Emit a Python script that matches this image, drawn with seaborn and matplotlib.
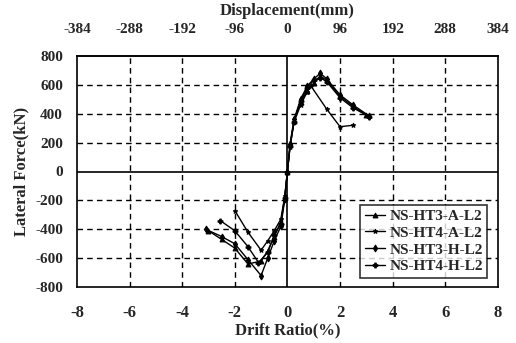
import numpy as np
import pandas as pd
import matplotlib
matplotlib.use("Agg")
import matplotlib.pyplot as plt
import seaborn as sns

# ---- data (drift ratio %, lateral force kN) ----
specimens = ["NS-HT3-A-L2", "NS-HT4-A-L2", "NS-HT3-H-L2", "NS-HT4-H-L2"]

drift_ht3_a = [-3.0, -2.5, -2.0, -1.5, -1.0, -0.75, -0.5, -0.25, -0.1, 0.0, 0.1, 0.25, 0.5, 0.75, 1.0, 1.25, 1.5, 2.0, 2.5, 3.0]
force_ht3_a = [-410, -470, -530, -640, -620, -550, -450, -350, -180, 0, 180, 350, 480, 560, 610, 660, 630, 520, 450, 390]

drift_ht4_a = [-2.0, -1.5, -1.0, -0.75, -0.5, -0.25, -0.1, 0.0, 0.1, 0.25, 0.5, 0.75, 0.9, 1.5, 2.0, 2.5]
force_ht4_a = [-270, -420, -545, -480, -410, -330, -170, 0, 170, 340, 460, 550, 590, 430, 310, 320]

drift_ht3_h = [-3.1, -2.5, -2.0, -1.5, -1.0, -0.75, -0.5, -0.25, -0.1, 0.0, 0.1, 0.25, 0.5, 0.75, 1.0, 1.25, 1.5, 2.0, 2.5, 3.1]
force_ht3_h = [-400, -450, -500, -610, -720, -600, -480, -380, -190, 0, 190, 360, 500, 590, 640, 680, 640, 530, 460, 385]

drift_ht4_h = [-2.55, -2.0, -1.5, -1.1, -0.75, -0.5, -0.25, -0.1, 0.0, 0.1, 0.25, 0.5, 0.75, 1.0, 1.25, 1.5, 2.0, 2.5, 3.1]
force_ht4_h = [-340, -410, -520, -630, -560, -440, -360, -180, 0, 175, 345, 490, 580, 630, 650, 620, 510, 440, 380]

drift_ticks = [-8, -6, -4, -2, 0, 2, 4, 6, 8]
force_ticks = [-800, -600, -400, -200, 0, 200, 400, 600, 800]
mm_per_percent = 48

frames = []
for name, dx, fy in zip(specimens,
                        [drift_ht3_a, drift_ht4_a, drift_ht3_h, drift_ht4_h],
                        [force_ht3_a, force_ht4_a, force_ht3_h, force_ht4_h]):
    frames.append(pd.DataFrame({"drift": dx, "force": fy, "specimen": name}))
df = pd.concat(frames, ignore_index=True)

sns.set_theme(style="white")
plt.rcParams['font.family'] = ['Liberation Serif', 'DejaVu Serif']
plt.rcParams['font.weight'] = 'bold'

fig = plt.figure(figsize=(5.16, 3.43), dpi=100)
ax = fig.add_axes([0.149, 0.163, 0.816, 0.674])

# grid
for x in drift_ticks[1:-1]:
    if x == 0:
        ax.axvline(x, color='black', lw=1.2, zorder=1)
    else:
        ax.axvline(x, color='black', lw=1.0, ls=(0, (4, 3)), zorder=1)
for y in force_ticks[1:-1]:
    if y == 0:
        ax.axhline(y, color='black', lw=1.2, zorder=1)
    else:
        ax.axhline(y, color='black', lw=1.0, ls=(0, (4, 3)), zorder=1)

sns.lineplot(data=df, x="drift", y="force", hue="specimen", style="specimen",
             palette=["black"] * 4, markers=['^', '*', 'd', 'P'], dashes=False,
             estimator=None, sort=False, lw=1.0, markersize=3.5,
             markeredgecolor='black', ax=ax, zorder=3)

ax.set_xlim(-8, 8)
ax.set_ylim(-800, 800)
ax.set_xticks(drift_ticks)
ax.set_yticks(force_ticks)
ax.set_xticklabels([str(t) for t in drift_ticks], fontsize=12, fontweight='bold')
ax.set_yticklabels([str(t) for t in force_ticks], fontsize=11, fontweight='bold')
ax.set_xlabel("Drift Ratio(%)", fontsize=12, fontweight='bold', labelpad=1)
ax.set_ylabel("Lateral Force(kN)", fontsize=12, fontweight='bold', labelpad=4)
ax.tick_params(axis='x', direction='in', length=3, color='black', pad=13)
ax.tick_params(axis='y', direction='in', length=3, color='black', pad=10)
for s in ax.spines.values():
    s.set_color('black')
    s.set_linewidth(1.2)

top = ax.secondary_xaxis('top', functions=(lambda x: x * mm_per_percent,
                                           lambda x: x / mm_per_percent))
top.set_xticks([t * mm_per_percent for t in drift_ticks])
top.set_xticklabels([str(t * mm_per_percent) for t in drift_ticks], fontsize=11, fontweight='bold')
top.tick_params(direction='in', length=0, pad=14)
top.set_xlabel("Displacement(mm)", fontsize=12, fontweight='bold', labelpad=6)

leg = ax.legend(loc='lower right', bbox_to_anchor=(0.975, 0.04), frameon=True,
                fancybox=False, edgecolor='black', fontsize=11,
                handlelength=1.3, handletextpad=0.3, borderpad=0.3,
                labelspacing=0.2, borderaxespad=0)
leg.get_frame().set_linewidth(1.2)
for t in leg.get_texts():
    t.set_fontweight('bold')

fig.savefig("out.png", dpi=100, facecolor='white')
